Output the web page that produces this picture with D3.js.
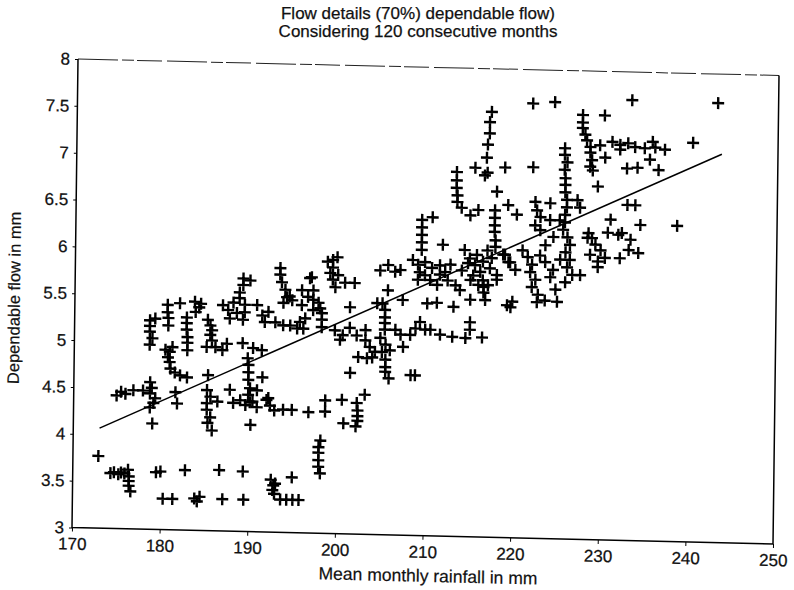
<!DOCTYPE html>
<html><head><meta charset="utf-8">
<script src="https://cdn.jsdelivr.net/npm/d3@7"></script>
<style>
body{margin:0;background:#fff}
text{font-family:"Liberation Sans",Arial,Helvetica,sans-serif;fill:#111}
</style>
</head><body>
<svg id="c" width="794" height="590"></svg>
<script>
// ---------- data ----------
const titleLines = ["Flow details (70%) dependable flow)", "Considering 120 consecutive months"];
const xLabel = "Mean monthly rainfall in mm";
const yLabel = "Dependable flow in mm";
const xTicks = [170, 180, 190, 200, 210, 220, 230, 240, 250];
const yTicks = [3, 3.5, 4, 4.5, 5, 5.5, 6, 6.5, 7, 7.5, 8];
const fitSlope = 0.0436;
const fitIntercept = -3.475;
const fitRange = [173, 243.6];
// [mean monthly rainfall (mm), dependable flow (mm)]
const points = [
[172.9,3.77],
[174.3,3.59],[174.7,3.60],[175.2,3.58],[175.5,3.60],[175.9,3.59],
[176.3,3.63],[176.4,3.56],[176.4,3.51],[176.4,3.46],[176.6,3.40],
[179.5,3.61],[180.0,3.62],[182.8,3.64],[186.7,3.65],[189.4,3.64],
[180.3,3.33],[181.4,3.33],[183.9,3.34],[184.2,3.31],[184.5,3.36],[187.1,3.34],[189.5,3.34],
[192.6,3.56],[192.9,3.50],[192.8,3.45],[193.0,3.41],[193.1,3.52],
[193.7,3.35],[194.4,3.35],[195.1,3.35],[195.8,3.35],[195.0,3.59],
[198.2,3.99],[198.0,3.92],[198.0,3.86],[198.0,3.78],[198.0,3.71],[198.2,3.64],
[174.9,4.42],[175.4,4.46],[175.9,4.44],[176.8,4.48],
[178.7,4.57],[178.9,4.51],[178.7,4.45],[179.3,4.40],[179.1,4.35],[178.7,4.30],[177.9,4.48],
[179.0,4.13],[181.6,4.47],[181.8,4.35],
[185.2,4.50],[185.6,4.43],[185.2,4.36],[185.2,4.29],[185.6,4.21],[185.3,4.15],[185.8,4.07],
[186.4,4.38],[187.8,4.51],[188.2,4.37],
[189.8,4.85],[189.9,4.78],[189.9,4.70],[189.9,4.62],[190.1,4.53],[189.9,4.46],[190.1,4.38],
[190.2,4.14],
[189.0,4.40],[189.6,4.35],[190.4,4.39],[190.9,4.33],[191.5,4.65],[190.9,4.51],
[192.0,4.41],[192.4,4.35],[192.9,4.30],[192.2,4.43],
[193.9,4.31],[194.9,4.31],[196.8,4.29],[198.7,4.30],[198.7,4.42],
[200.6,4.43],[203.2,4.49],[202.3,4.40],[202.4,4.32],[202.4,4.26],[202.4,4.21],[202.2,4.15],[200.8,4.18],
[178.6,5.23],[178.6,5.17],[178.6,5.11],[178.9,5.04],[178.6,4.97],[179.2,5.25],
[180.6,5.40],[180.6,5.32],[180.7,5.26],[180.7,5.18],[182.0,5.42],
[183.7,5.44],[184.2,5.38],[183.8,5.33],[184.4,5.42],
[182.8,5.27],[182.8,5.21],[182.8,5.14],[182.9,5.06],[182.9,5.00],[182.9,4.92],
[185.2,5.25],[185.5,5.19],[185.7,5.14],[185.5,5.09],[185.7,5.03],
[185.1,4.96],[186.1,4.96],[186.9,4.93],[187.4,5.00],
[189.2,5.01],[190.4,4.96],[191.4,4.94],
[180.4,4.92],[180.9,4.90],[180.7,4.84],[181.2,4.95],
[180.9,4.79],[181.0,4.72],[181.5,4.68],[182.1,4.65],[182.9,4.63],[185.3,4.66],
[186.9,5.41],[187.5,5.36],[188.1,5.44],[188.5,5.33],[187.7,5.27],
[189.2,5.70],[189.2,5.63],[188.8,5.55],[188.8,5.49],[189.4,5.42],[189.4,5.34],[189.2,5.26],[190.0,5.68],
[190.8,5.42],[191.4,5.31],[191.7,5.24],[192.1,5.35],
[193.4,5.82],[193.4,5.75],[193.6,5.67],[194.0,5.59],[194.2,5.51],[193.8,5.45],[194.5,5.52],[194.8,5.48],
[196.8,5.72],[197.2,5.59],[197.2,5.49],[198.0,5.40],
[192.9,5.24],[193.8,5.21],[194.6,5.21],[195.4,5.18],[195.7,5.25],[196.3,5.29],[196.1,5.18],
[211.9,6.11],
[199.4,5.92],[199.4,5.84],[199.1,5.78],[199.4,5.71],[199.7,5.63],[199.9,5.95],[198.8,5.90],[200.0,5.76],
[197.0,5.73],[200.8,5.68],[201.9,5.68],[205.7,5.61],
[204.8,5.82],[205.7,5.88],[206.5,5.81],[207.1,5.83],
[208.5,5.94],[209.1,5.89],[209.3,5.81],[209.1,5.73],[209.9,5.78],
[211.6,5.89],[212.2,5.82],[214.1,5.84],[214.8,5.92],[215.4,5.79],
[215.8,6.01],[216.5,5.94],[217.0,6.06],
[216.5,5.74],[216.6,5.67],[216.6,5.61],[216.8,5.53],[218.1,5.75],
[219.3,5.48],[219.9,5.52],[218.8,6.02],[219.4,5.94],
[195.9,5.59],[196.6,5.52],[195.9,5.43],[197.2,5.38],[197.8,5.46],
[198.2,5.35],[198.2,5.28],[198.2,5.20],[201.4,5.42],
[205.1,5.47],[205.4,5.40],[205.4,5.32],[205.4,5.26],[205.4,5.19],[204.9,5.10],[205.5,5.03],[205.1,4.95],[205.5,4.87],[205.5,4.79],[204.5,5.47],[207.4,5.51],
[199.7,5.17],[200.6,5.12],[201.4,5.20],[202.2,5.12],[203.2,5.18],[200.3,5.07],
[203.2,5.07],[203.7,5.00],[204.3,4.95],[204.0,4.89],[202.4,4.89],[203.4,4.88],
[206.6,5.19],[207.2,5.14],[207.5,5.01],[206.0,4.97],
[208.3,5.14],[208.9,5.21],[209.4,5.28],[210.0,5.20],[210.6,5.20],[211.7,5.15],
[213.1,5.13],[214.6,5.12],[215.1,5.29],[215.1,5.21],[216.5,5.13],
[201.5,4.72],[205.5,4.74],[205.9,4.67],[208.4,4.71],[208.9,4.71],
[222.0,7.64],[224.5,7.66],[233.3,7.70],[243.1,7.69],
[217.3,7.54],[217.1,7.43],[217.1,7.31],[216.9,7.19],[216.8,7.05],[216.9,6.89],[215.5,6.94],[216.6,6.86],
[218.9,6.95],[222.1,6.96],
[213.4,6.89],[213.4,6.80],[213.4,6.72],[213.5,6.64],[213.5,6.57],[214.0,6.51],[215.0,6.43],[215.9,6.49],
[218.0,6.69],
[227.7,7.53],[227.7,7.45],[227.7,7.39],[228.0,7.32],[228.2,7.26],[228.6,7.19],[228.6,7.13],[228.8,7.05],[228.6,6.98],
[230.2,7.53],
[229.7,7.21],[231.1,7.25],[232.0,7.22],[232.9,7.24],[233.7,7.20],[234.8,7.19],[236.0,7.20],[237.1,7.18],[232.0,7.17],[235.7,7.26],
[240.3,7.26],[230.3,7.08],[228.9,6.94],
[235.4,7.07],[232.8,6.97],[234.0,6.98],[236.4,6.96],[229.5,6.77],
[225.7,7.17],[225.7,7.10],[226.0,7.02],[225.7,6.94],[225.8,6.85],[225.8,6.78],[225.8,6.70],[226.0,6.62],[226.0,6.54],[225.8,6.46],[225.8,6.38],
[227.2,6.62],[227.5,6.54],[232.9,6.58],[233.8,6.58],
[231.0,6.42],[234.4,6.37],[238.6,6.37],
[217.8,6.49],[217.8,6.41],[217.8,6.33],[217.8,6.26],[217.9,6.17],[217.9,6.10],
[219.3,6.55],[220.3,6.45],[210.7,6.40],
[209.5,6.37],[209.5,6.29],[209.5,6.21],[209.5,6.13],[209.5,6.05],
[222.4,6.59],[222.6,6.50],[223.0,6.43],[222.4,6.34],[223.0,6.29],[224.1,6.58],
[224.1,6.40],[225.2,6.40],
[225.6,6.30],[226.1,6.22],[226.4,6.14],[225.9,6.06],[226.4,5.98],[226.1,5.90],[226.7,5.82],
[228.4,6.22],[229.3,6.15],[229.9,6.09],[228.7,6.04],[230.4,6.01],[228.9,6.22],[229.6,5.97],
[230.7,6.28],[231.9,6.26],[232.3,6.28],
[232.1,6.01],[233.3,6.21],[233.1,6.10],[234.2,6.07],
[221.0,6.07],[221.6,6.00],[222.1,5.92],[221.9,5.84],[222.5,5.76],[222.1,5.68],[222.8,5.60],
[223.0,6.02],[223.6,5.95],[224.5,5.87],[224.2,5.79],
[219.0,6.02],[219.6,5.94],[220.2,5.86],
[214.4,6.06],[215.0,5.97],[215.6,5.90],[216.2,5.83],[217.3,5.87],[218.1,5.80],[215.1,5.74],[217.1,5.69],
[217.5,5.98],[216.0,5.69],[213.9,5.63],[212.8,5.90],[211.3,5.68],
[219.7,5.46],[225.0,5.53],[225.9,5.74],[227.6,5.82],[229.6,5.91],[222.7,5.52],
[224.8,5.66],[223.6,5.54],[225.3,5.98],
[209.9,5.92],[210.7,5.86],[211.6,5.79],[212.5,5.73],[213.4,5.68],[210.5,5.73],
[213.2,5.45],[210.2,5.48],[211.3,5.49],
[224.5,6.22],[223.6,6.13],[228.5,6.27],[215.1,5.53]
];

// ---------- drawing ----------
const W = 701, H = 468.5;
const FONT = '"Liberation Sans", Arial, Helvetica, sans-serif';
const x = d3.scaleLinear().domain([170, 250]).range([0, W]);
const y = d3.scaleLinear().domain([3, 8]).range([H, 0]);

const svg = d3.select("#c");
svg.append("rect").attr("width", 794).attr("height", 590).attr("fill", "#fff");

svg.append("g").selectAll("text").data(titleLines).join("text")
  .attr("x", 418).attr("y", (d, i) => 19 + i * 18)
  .attr("text-anchor", "middle").attr("font-size", 17)
  .attr("stroke", "#111").attr("stroke-width", 0.25)
  .text(d => d);

// the scanned figure is slightly skewed; reproduce with an affine transform
const g = svg.append("g").attr("transform", "matrix(1,0.02354,-0.0128,1,78,59)");

// frame
g.append("line").attr("x1", 0).attr("y1", 0).attr("x2", W).attr("y2", 0)
  .attr("stroke", "#222").attr("stroke-width", 1).attr("stroke-dasharray", "40,4,12,3,25,5");
g.append("path").attr("d", `M0,0V${H}H${W}V0`).attr("fill", "none")
  .attr("stroke", "#000").attr("stroke-width", 1.5);

const yAxis = g.append("g").call(d3.axisLeft(y).tickValues(yTicks)
  .tickFormat(d3.format("")).tickSize(3).tickPadding(5));
yAxis.select(".domain").remove();
yAxis.selectAll("text").attr("font-size", 17).attr("font-family", FONT).attr("fill", "#111")
  .attr("stroke", "#111").attr("stroke-width", 0.25);

const xAxis = g.append("g").attr("transform", `translate(0,${H})`)
  .call(d3.axisBottom(x).tickValues(xTicks).tickFormat(d3.format("d")).tickSize(4).tickPadding(6));
xAxis.select(".domain").remove();
xAxis.selectAll("text").attr("font-size", 17).attr("font-family", FONT).attr("fill", "#111")
  .attr("stroke", "#111").attr("stroke-width", 0.25);

// axis titles
g.append("text").attr("x", W / 2 + 6).attr("y", H + 46).attr("text-anchor", "middle")
  .attr("font-size", 17.5).attr("stroke", "#111").attr("stroke-width", 0.2).text(xLabel);
g.append("text").attr("transform", `translate(-55,${H / 2 + 6}) rotate(-90)`)
  .attr("text-anchor", "middle").attr("font-size", 16.5)
  .attr("stroke", "#111").attr("stroke-width", 0.2).text(yLabel);

// regression line
g.append("line")
  .attr("x1", x(fitRange[0])).attr("y1", y(fitIntercept + fitSlope * fitRange[0]))
  .attr("x2", x(fitRange[1])).attr("y2", y(fitIntercept + fitSlope * fitRange[1]))
  .attr("stroke", "#000").attr("stroke-width", 1.5);

// plus markers
g.append("g").selectAll("path").data(points).join("path")
  .attr("transform", d => `translate(${x(d[0])},${y(d[1])})`)
  .attr("d", "M-6,0H6M0,-6V6")
  .attr("stroke", "#000").attr("stroke-width", 2.4).attr("fill", "none");
</script>
</body></html>
